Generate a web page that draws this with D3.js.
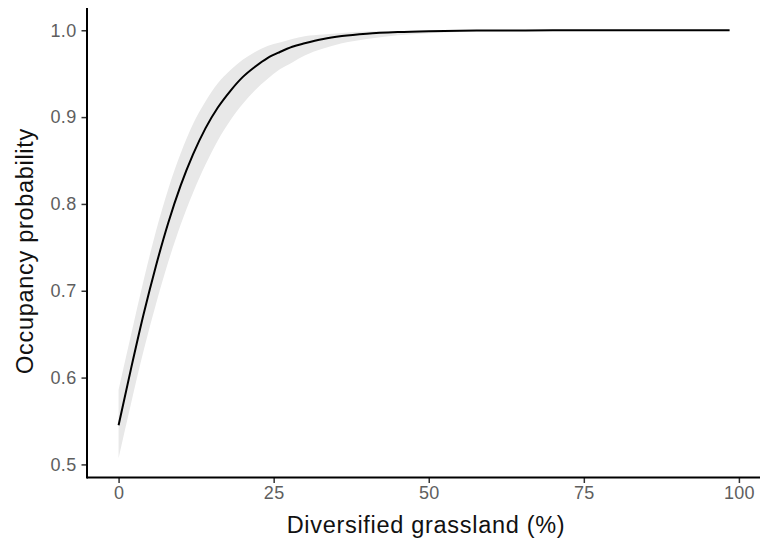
<!DOCTYPE html>
<html>
<head>
<meta charset="utf-8">
<script src="https://cdn.jsdelivr.net/npm/d3@7"></script>
<style>
  html, body { margin: 0; padding: 0; background: #fff; }
  svg { display: block; font-family: "Liberation Sans", Arial, sans-serif; }
</style>
</head>
<body>
<svg id="chart" width="761" height="543"></svg>
<script>
// Fitted occupancy probability against diversified grassland cover, with its confidence band
const grassland = [0, 2, 4, 6, 8, 10, 12, 14, 16, 18, 20, 22, 24, 26, 28, 30, 33, 36, 40, 45, 50, 55, 60, 70, 80, 90, 98.5];
const occupancy = [0.545, 0.610, 0.672, 0.728, 0.778, 0.821, 0.857, 0.887, 0.911, 0.930, 0.946, 0.958, 0.968, 0.975, 0.981, 0.985, 0.990, 0.9933, 0.9961, 0.9980, 0.9990, 0.9995, 0.9997, 0.99993, 0.99998, 0.999995, 1.0];
const lowerCI   = [0.507, 0.570, 0.630, 0.684, 0.733, 0.776, 0.813, 0.845, 0.873, 0.896, 0.915, 0.931, 0.944, 0.955, 0.963, 0.971, 0.979, 0.985, 0.990, 0.9943, 0.9967, 0.9981, 0.9989, 0.99965, 0.99988, 0.99996, 0.99998];
const upperCI   = [0.586, 0.649, 0.711, 0.768, 0.817, 0.858, 0.892, 0.918, 0.939, 0.954, 0.966, 0.975, 0.982, 0.986, 0.990, 0.993, 0.995, 0.997, 0.9985, 0.9993, 0.9997, 0.99985, 0.99993, 0.99998, 1.0, 1.0, 1.0];

const xTicks = [0, 25, 50, 75, 100];
const yTicks = [0.5, 0.6, 0.7, 0.8, 0.9, 1.0];

const xTitle = "Diversified grassland (%)";
const yTitle = "Occupancy probability";

const svg = d3.select("#chart");

// Panel box and expanded data ranges
const panel = { left: 87, right: 760, top: 9, bottom: 477.5 };
const xDomain = [-4.93, 103.4];
const yDomain = [0.4855, 1.0245];

const x = d3.scaleLinear().domain(xDomain).range([panel.left + 1, panel.right]);
const y = d3.scaleLinear().domain(yDomain).range([panel.bottom - 0.5, panel.top]);

const rows = grassland.map((g, i) => ({ g, p: occupancy[i], lo: lowerCI[i], hi: upperCI[i] }));

// Confidence ribbon
const band = d3.area()
  .x(d => x(d.g))
  .y0(d => y(d.lo))
  .y1(d => y(d.hi))
  .curve(d3.curveMonotoneX);

svg.append("path")
  .datum(rows)
  .attr("d", band)
  .attr("fill", "#e8e8e8");

// Fitted curve
const line = d3.line()
  .x(d => x(d.g))
  .y(d => y(d.p))
  .curve(d3.curveMonotoneX);

svg.append("path")
  .datum(rows)
  .attr("d", line)
  .attr("fill", "none")
  .attr("stroke", "#000")
  .attr("stroke-width", 2);

// Axes
const xAxis = d3.axisBottom(x)
  .tickValues(xTicks)
  .tickFormat(d3.format("d"))
  .tickSize(5.5)
  .tickPadding(3);

const yAxis = d3.axisLeft(y)
  .tickValues(yTicks)
  .tickFormat(d3.format(".1f"))
  .tickSize(5.5)
  .tickPadding(5);

const gx = svg.append("g")
  .attr("transform", `translate(0,${panel.bottom})`)
  .call(xAxis);

const gy = svg.append("g")
  .attr("transform", `translate(${panel.left},0)`)
  .call(yAxis);

[gx, gy].forEach(g => {
  g.select(".domain").remove();
  g.selectAll(".tick line").attr("stroke", "#333").attr("stroke-width", 1.5);
  g.selectAll(".tick text")
    .attr("fill", "#5e5e5e")
    .style("font-size", "18px")
    .style("letter-spacing", "0.3px")
    .style("font-family", "'Liberation Sans', Arial, sans-serif");
});

// Axis lines
svg.append("line")
  .attr("x1", panel.left).attr("x2", panel.right)
  .attr("y1", panel.bottom).attr("y2", panel.bottom)
  .attr("stroke", "#000").attr("stroke-width", 2);

svg.append("line")
  .attr("x1", panel.left).attr("x2", panel.left)
  .attr("y1", panel.top - 1).attr("y2", panel.bottom + 1)
  .attr("stroke", "#000").attr("stroke-width", 2);

// Axis titles
svg.append("text")
  .attr("x", 426)
  .attr("y", 533)
  .attr("text-anchor", "middle")
  .attr("fill", "#111")
  .style("font-size", "23.5px")
  .style("letter-spacing", "0.7px")
  .text(xTitle);

svg.append("text")
  .attr("transform", "translate(33,251) rotate(-90)")
  .attr("text-anchor", "middle")
  .attr("fill", "#111")
  .style("font-size", "23.5px")
  .style("letter-spacing", "0.7px")
  .text(yTitle);
</script>
</body>
</html>
